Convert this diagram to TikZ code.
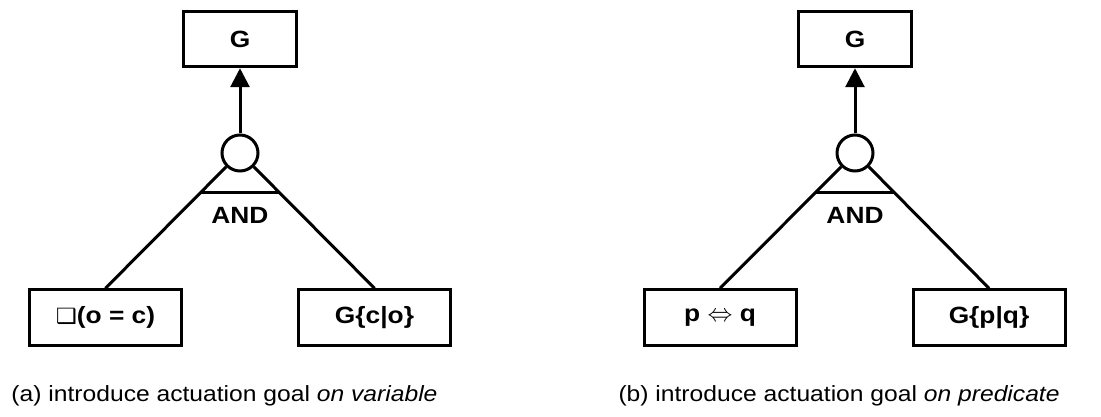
\documentclass[tikz,border=0pt]{standalone}
\usepackage{fontspec}
\setmainfont{Liberation Sans}[FakeStretch=1.12]
\newfontfamily\dejavu{DejaVu Sans}[FakeStretch=1.12]
\usetikzlibrary{arrows.meta}
\tikzset{goal/.style = {draw, line width=3pt, minimum height=55.5pt, inner sep=0pt,
    font=\fontsize{23.5}{28}\selectfont\bfseries},
  refine/.style = {draw, circle, line width=3pt, minimum size=36pt, inner sep=0pt},
  caption/.style = {anchor=base west, inner sep=0pt, font=\fontsize{22}{26}\selectfont}}

\begin{document}
\begin{tikzpicture}[x=1pt, y=-1pt, line width=3pt]
  \useasboundingbox (0,0) rectangle (1101,417);
  % (a) on variable
  \node[goal, minimum width=113pt] (topA) at (240,39) {G};
  \node[refine] (andA) at (240,153) {};
  \node[goal, minimum width=152pt] (leftA) at (105.5,317.5) {{\dejavu\mdseries\fontsize{21}{26}\selectfont ❑}(o = c)};
  \node[goal, minimum width=152pt] (rightA) at (374.5,317.5) {G\{c|o\}};
  \draw[-{Triangle[width=19pt,length=19pt]}] (andA) -- (topA);
  \draw (andA.225) -- coordinate[pos=.21] (aL) (leftA.north);
  \draw (andA.-45) -- coordinate[pos=.21] (aR) (rightA.north);
  \draw (aL) -- (aR);
  \node[font=\fontsize{23.5}{28}\selectfont\bfseries] (opA) at (240,215) {AND};
  \node[caption] (capA) at (10,401) {(a) introduce actuation goal \textit{on variable}};
  % (b) on predicate
  \node[goal, minimum width=113pt] (topB) at (855,39) {G};
  \node[refine] (andB) at (855,153) {};
  \node[goal, minimum width=152pt] (leftB) at (720,317.5) {p $\Leftrightarrow$ q};
  \node[goal, minimum width=152pt] (rightB) at (989,317.5) {G\{p|q\}};
  \draw[-{Triangle[width=19pt,length=19pt]}] (andB) -- (topB);
  \draw (andB.225) -- coordinate[pos=.21] (bL) (leftB.north);
  \draw (andB.-45) -- coordinate[pos=.21] (bR) (rightB.north);
  \draw (bL) -- (bR);
  \node[font=\fontsize{23.5}{28}\selectfont\bfseries] (opB) at (855,215) {AND};
  \node[caption] (capB) at (617,401) {(b) introduce actuation goal \textit{on predicate}};
\end{tikzpicture}
\end{document}
